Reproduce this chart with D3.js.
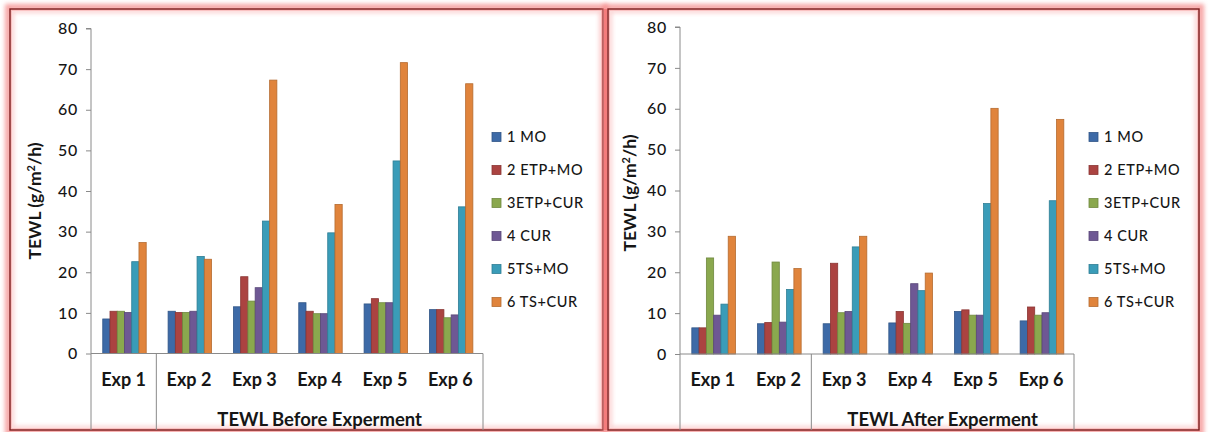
<!DOCTYPE html>
<html>
<head>
<meta charset="utf-8">
<script src="https://cdn.jsdelivr.net/npm/d3@7"></script>
<style>
  html, body { margin: 0; padding: 0; background: #ffffff; }
  svg { display: block; }
  text { font-family: Lato, "Open Sans", sans-serif; fill: #161616; }
</style>
</head>
<body>
<svg id="chart" width="1209" height="432"></svg>
<script>
// Experiment categories along the x axis
const experiments = ["Exp 1", "Exp 2", "Exp 3", "Exp 4", "Exp 5", "Exp 6"];

// Treatment series
const seriesNames = ["1 MO", "2 ETP+MO", "3ETP+CUR", "4 CUR", "5TS+MO", "6 TS+CUR"];
const seriesColors = ["#3d6aa7", "#ab4341", "#8aa84e", "#6e5894", "#3a9cb8", "#e0843c"];

// TEWL (g/m²/h) before the experiment, one array per treatment, Exp 1..6
const before1MO     = [8.5, 10.4, 11.5, 12.5, 12.2, 10.8];
const before2ETPMO  = [10.4, 10.1, 18.9, 10.4, 13.5, 10.8];
const before3ETPCUR = [10.4, 10.1, 12.9, 9.8, 12.5, 8.8];
const before4CUR    = [10.1, 10.4, 16.2, 9.8, 12.5, 9.5];
const before5TSMO   = [22.6, 23.9, 32.6, 29.7, 47.4, 36.1];
const before6TSCUR  = [27.3, 23.2, 67.3, 36.7, 71.6, 66.4];

// TEWL (g/m²/h) after the experiment
const after1MO     = [6.4, 7.4, 7.4, 7.6, 10.4, 8.1];
const after2ETPMO  = [6.4, 7.7, 22.2, 10.4, 10.8, 11.5];
const after3ETPCUR = [23.5, 22.5, 10.1, 7.5, 9.5, 9.5];
const after4CUR    = [9.5, 7.8, 10.4, 17.2, 9.5, 10.1];
const after5TSMO   = [12.2, 15.8, 26.2, 15.5, 36.8, 37.5];
const after6TSCUR  = [28.8, 20.9, 28.8, 19.8, 60.1, 57.4];

// Axis ticks
const yTicks = [0, 10, 20, 30, 40, 50, 60, 70, 80];

const beforeSeries = [before1MO, before2ETPMO, before3ETPCUR, before4CUR, before5TSMO, before6TSCUR];
const afterSeries  = [after1MO, after2ETPMO, after3ETPCUR, after4CUR, after5TSMO, after6TSCUR];

const svg = d3.select("#chart");

// glow filter for the panel frames
const defs = svg.append("defs");
const glow = defs.append("filter").attr("id", "glow")
  .attr("x", "-5%").attr("y", "-5%").attr("width", "110%").attr("height", "110%");
glow.append("feGaussianBlur").attr("stdDeviation", 2.2);

const panels = [
  { frame: [10, 9, 593, 421], plot: { x0: 91, x1: 483, y0: 353.5, y1: 28.5 },
    yTitleX: 35, yTitleY: 201, legendX: 492, groupStart: 1,
    groupLabel: "TEWL Before Experment", series: beforeSeries },
  { frame: [608, 9, 591, 421], plot: { x0: 680, x1: 1074, y0: 354, y1: 27 },
    yTitleX: 630, yTitleY: 193, legendX: 1089, groupStart: 2,
    groupLabel: "TEWL After Experment", series: afterSeries }
];

panels.forEach(p => {
  const [fx, fy, fw, fh] = p.frame;

  // frame: soft pink halo and a thin dark red line
  svg.append("rect")
    .attr("x", fx).attr("y", fy).attr("width", fw).attr("height", fh)
    .attr("fill", "none").attr("stroke", "#f58e8e").attr("stroke-width", 10)
    .attr("opacity", 0.8).attr("filter", "url(#glow)");
  svg.append("rect")
    .attr("x", fx + 2).attr("y", fy + 2).attr("width", fw - 4).attr("height", fh - 4)
    .attr("fill", "#ffffff");
  svg.append("rect")
    .attr("x", fx + 2).attr("y", fy + 2).attr("width", fw - 4).attr("height", fh - 4)
    .attr("fill", "none").attr("stroke", "#fbd0d0").attr("stroke-width", 4)
    .attr("filter", "url(#glow)");
  svg.append("rect")
    .attr("x", fx).attr("y", fy).attr("width", fw).attr("height", fh)
    .attr("fill", "none").attr("stroke", "#7d1c1c").attr("stroke-width", 1.4);
});

// pink fill between the two frames
svg.append("rect").attr("x", 604).attr("y", 9).attr("width", 3).attr("height", 421)
  .attr("fill", "#f47c7c");

panels.forEach(p => {
  const { x0, x1, y0, y1 } = p.plot;
  const g = svg.append("g");

  const x = d3.scaleBand().domain(experiments).range([x0, x1]).paddingInner(0).paddingOuter(0);
  const bw = x.bandwidth();
  const inner = d3.scaleBand().domain(seriesNames).range([bw * 0.18, bw * 0.845]).padding(0);
  const y = d3.scaleLinear().domain([0, 80]).range([y0, y1]);

  // bars
  p.series.forEach((vals, si) => {
    const col = d3.color(seriesColors[si]);
    g.append("g").selectAll("rect")
      .data(vals)
      .join("rect")
      .attr("x", (d, i) => x(experiments[i]) + inner(seriesNames[si]))
      .attr("y", d => y(d))
      .attr("width", inner.bandwidth())
      .attr("height", d => y(0) - y(d))
      .attr("fill", col.formatHex())
      .attr("stroke", col.darker(0.6).formatHex())
      .attr("stroke-width", 0.8);
  });

  // y axis
  const yAxis = d3.axisLeft(y).tickValues(yTicks).tickSize(5).tickSizeOuter(0).tickPadding(8);
  const ya = g.append("g").attr("transform", `translate(${x0},0)`).call(yAxis);
  ya.select(".domain").attr("stroke", "#8a8a8a").attr("d", `M-5,${y1}H0V${y0}`);
  ya.selectAll(".tick line").attr("stroke", "#8a8a8a");
  ya.selectAll(".tick text")
    .style("font-family", "Lato, sans-serif").style("font-size", "16px")
    .style("font-weight", "500")
    .attr("fill", "#161616").attr("letter-spacing", "0.7px");

  // category axis: baseline and group dividers that run to the frame bottom
  const frameBottom = p.frame[1] + p.frame[3];
  g.append("line").attr("x1", x0).attr("x2", x1).attr("y1", y0).attr("y2", y0)
    .attr("stroke", "#8a8a8a");
  [x0, x(experiments[p.groupStart]), x1].forEach(xx => {
    g.append("line").attr("x1", xx).attr("x2", xx).attr("y1", y0).attr("y2", frameBottom)
      .attr("stroke", "#8a8a8a");
  });

  // experiment labels
  g.selectAll("text.cat").data(experiments).join("text")
    .attr("class", "cat")
    .attr("x", d => x(d) + bw / 2)
    .attr("y", 386)
    .attr("text-anchor", "middle")
    .style("font-size", "18px").style("font-weight", "bold")
    .text(d => d);

  // group label
  const gx0 = x(experiments[p.groupStart]);
  g.append("text")
    .attr("x", (gx0 + x1) / 2).attr("y", 426)
    .attr("text-anchor", "middle")
    .style("font-size", "18.5px").style("font-weight", "bold")
    .text(p.groupLabel);

  // y axis title
  const t = g.append("text")
    .attr("transform", `translate(${p.yTitleX},${p.yTitleY}) rotate(-90)`)
    .attr("text-anchor", "middle").attr("dy", "0.35em")
    .style("font-size", "17.5px").style("font-weight", "bold");
  t.append("tspan").text("TEWL (g/m");
  t.append("tspan").attr("baseline-shift", "super").style("font-size", "11px").text("2");
  t.append("tspan").text("/h)");

  // legend
  const leg = g.append("g");
  seriesNames.forEach((name, i) => {
    const cy = 137 + i * 33;
    leg.append("rect")
      .attr("x", p.legendX).attr("y", cy - 4.5).attr("width", 9).attr("height", 9)
      .attr("fill", seriesColors[i])
      .attr("stroke", d3.color(seriesColors[i]).darker(0.6).formatHex()).attr("stroke-width", 0.8);
    leg.append("text")
      .attr("x", p.legendX + 15).attr("y", cy).attr("dy", "0.36em")
      .style("font-size", "14.5px").style("font-weight", "500").attr("letter-spacing", "0.6px")
      .text(name);
  });
});
</script>
</body>
</html>
